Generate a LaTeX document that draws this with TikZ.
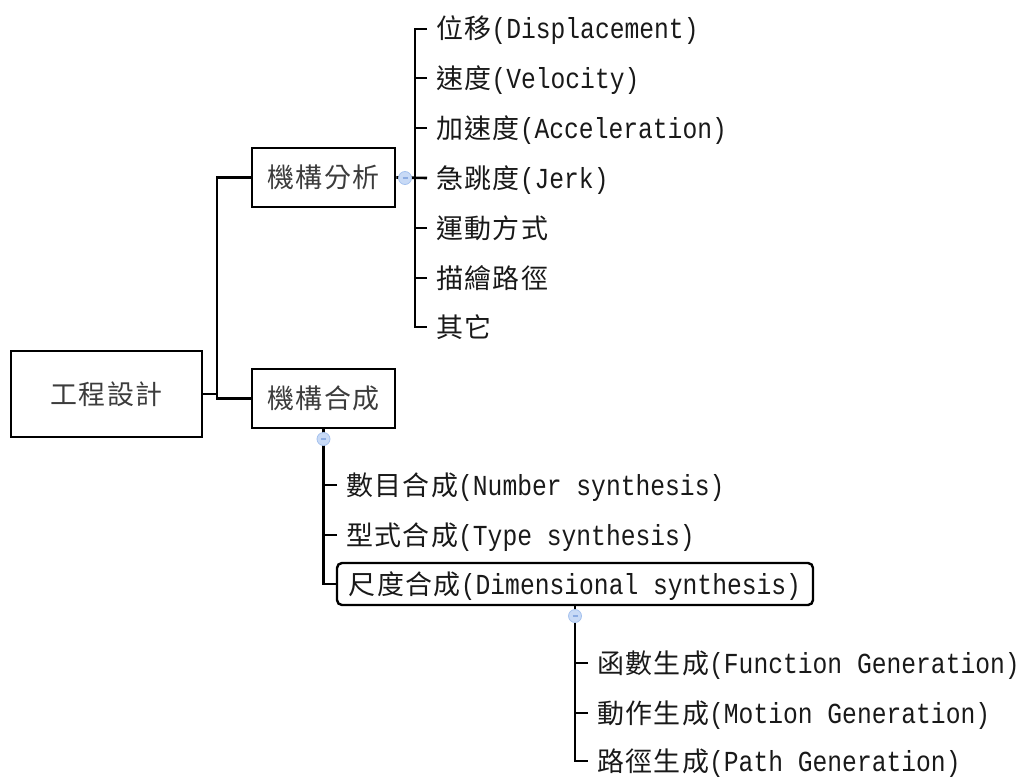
\documentclass[tikz,border=0pt]{standalone}
\usepackage{fontspec}
\usepackage{xcolor}
\newfontfamily\latfont[FakeStretch=0.85]{Liberation Mono}
\newfontfamily\zhfont[Scale=0.93,LetterSpace=5]{Noto Sans CJK TC}
\newcommand{\zh}[1]{{\zhfont #1}}
\definecolor{tglfill}{RGB}{200,218,246}
\definecolor{tgldraw}{RGB}{165,194,238}
\definecolor{tglbar}{RGB}{140,172,226}
\definecolor{boxtext}{RGB}{60,60,60}
\definecolor{leaftext}{RGB}{25,25,25}
\usetikzlibrary{positioning}

\begin{document}
\begin{tikzpicture}[
    % GLOBAL CFG
    x=1pt, y=-1pt,
    font=\fontsize{29}{32}\selectfont\latfont,
    % Styles
    box/.style={% For the topic boxes
        rectangle,
        draw,
        line width=2.6pt,
        minimum width=143pt,
        minimum height=59pt,
        text=boxtext,
        text height=20pt,
        text depth=0pt,
        inner sep=0pt
        },
    rootbox/.style={% For the central topic
        box,
        minimum width=191pt,
        minimum height=86pt
        },
    selbox/.style={% For the selected topic
        rectangle,
        draw,
        rounded corners=5pt,
        line width=2.4pt,
        minimum width=476pt,
        minimum height=42pt,
        text=leaftext,
        text height=20pt,
        text depth=0pt,
        inner sep=0pt
        },
    leaf/.style={% For the sub topics
        anchor=west,
        text=leaftext,
        text height=20pt,
        text depth=0pt,
        inner xsep=9pt,
        inner ysep=0pt
        },
    toggle/.style={% For the collapse buttons
        circle,
        draw=tgldraw,
        fill=tglfill,
        line width=0.8pt,
        minimum size=13pt,
        inner sep=0pt
        },
    link/.style={% For the connectors
        line width=2.6pt
        },
    ]

    \useasboundingbox (0,0) rectangle (1027,776);

    % Draw the topic boxes
    \node[rootbox] (eng) at (106.5,394) {\zh{工程設計}};
    \node[box] (ana) at (323.5,177.5) {\zh{機構分析}};
    \node[box] (syn) at (323.5,398.5) {\zh{機構合成}};
    \node[selbox] (dim) at (575,584) {\zh{尺度合成}(Dimensional synthesis)};

    % Draw the sub topics named a#, b# and c#
    \node[leaf] (a1) at (427,29) {\zh{位移}(Displacement)};
    \node[leaf] (a2) at (427,78) {\zh{速度}(Velocity)};
    \node[leaf] (a3) at (427,128) {\zh{加速度}(Acceleration)};
    \node[leaf] (a4) at (427,178) {\zh{急跳度}(Jerk)};
    \node[leaf] (a5) at (427,228) {\zh{運動方式}};
    \node[leaf] (a6) at (427,278) {\zh{描繪路徑}};
    \node[leaf] (a7) at (427,327) {\zh{其它}};

    \node[leaf] (b1) at (337,485) {\zh{數目合成}(Number synthesis)};
    \node[leaf] (b2) at (337,535) {\zh{型式合成}(Type synthesis)};

    \node[leaf] (c1) at (588,663) {\zh{函數生成}(Function Generation)};
    \node[leaf] (c2) at (588,713) {\zh{動作生成}(Motion Generation)};
    \node[leaf] (c3) at (588,761) {\zh{路徑生成}(Path Generation)};

% Start connecting all.
    % Root to main topics
    \coordinate (fork) at (217,394);
    \draw[link] (eng.east) -- (fork);
    \draw[link] (fork) |- (ana.west);
    \draw[link] (fork) |- (syn.west);

    % Analysis bracket
    \draw[link] (ana.east) -- (a4.west);
    \draw[link] (a1.west) -- ++(-12,0) |- (a7.west);
    \foreach \i in {2,3,5,6}
        \draw[link] (a\i.west) -- ++(-12,0);

    % Synthesis bracket
    \draw[link] (syn.south) |- (dim.west);
    \draw[link] (b1.west) -- (b1.west -| syn.south);
    \draw[link] (b2.west) -- (b2.west -| syn.south);

    % Dimensional synthesis bracket
    \draw[link] (dim.south) |- (c3.west);
    \draw[link] (c1.west) -- (c1.west -| dim.south);
    \draw[link] (c2.west) -- (c2.west -| dim.south);

    % Collapse buttons on top of the lines
    \node[toggle] (tana) at (405,178) {\textcolor{tglbar}{\rule{5pt}{1.2pt}}};
    \node[toggle] (tsyn) at (323.5,439) {\textcolor{tglbar}{\rule{5pt}{1.2pt}}};
    \node[toggle] (tdim) at (575,616) {\textcolor{tglbar}{\rule{5pt}{1.2pt}}};

\end{tikzpicture}
\end{document}
